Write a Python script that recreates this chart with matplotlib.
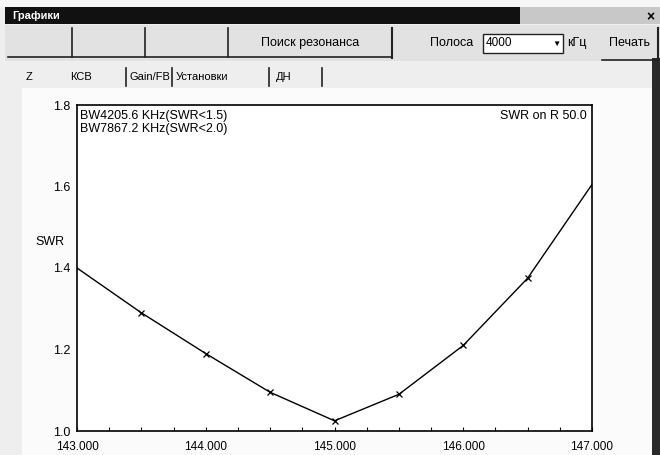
import matplotlib
matplotlib.use('Agg')
import matplotlib.pyplot as plt
from matplotlib.patches import Rectangle

plt.rcParams['font.family'] = ['Liberation Sans', 'DejaVu Sans']

# data
freq = [143.0, 143.5, 144.0, 144.5, 145.0, 145.5, 146.0, 146.5, 147.0]
swr = [1.40, 1.29, 1.19, 1.095, 1.025, 1.09, 1.21, 1.375, 1.605]
xticks = [143.0, 144.0, 145.0, 146.0, 147.0]
xticklabels = ['143.000', '144.000', '145.000', '146.000', '147.000']
yticks = [1.0, 1.2, 1.4, 1.6, 1.8]
yticklabels = ['1.0', '1.2', '1.4', '1.6', '1.8']
bw_lines = ['BW4205.6 KHz(SWR<1.5)', 'BW7867.2 KHz(SWR<2.0)']
r_text = 'SWR on R 50.0'
tabs = ['Z', 'КСВ', 'Gain/FB', 'Установки', 'ДН']

W, H = 660, 455
fig = plt.figure(figsize=(W / 100, H / 100), dpi=100, facecolor='#eeeeee')

# window chrome, pixel coords
bg = fig.add_axes([0, 0, 1, 1])
bg.set_xlim(0, W)
bg.set_ylim(H, 0)
bg.axis('off')

bg.add_patch(Rectangle((22, 88), 630, 367, color='#fbfbfb', lw=0))
bg.add_patch(Rectangle((0, 0), W, 7, color='#f6f6f6', lw=0))
bg.add_patch(Rectangle((5, 7), 515, 17, color='#111111', lw=0))
bg.add_patch(Rectangle((520, 7), 140, 17, color='#c8c8c8', lw=0))
bg.text(12, 16, 'Графики', color='white', fontsize=8, fontweight='bold', va='center')
bg.text(650, 17, '×', color='black', fontsize=10, fontweight='bold', va='center', ha='center')

# toolbar
bg.add_patch(Rectangle((5, 25), 655, 36, color='#e2e2e2', lw=0))
for x in [72, 145, 228]:
    bg.plot([x, x], [28, 57], color='#222222', lw=1.2)
bg.plot([8, 392], [57, 57], color='#222222', lw=1.2)
bg.plot([392, 392], [28, 58], color='#222222', lw=1.5)
bg.text(310, 43, 'Поиск резонанса', fontsize=9, ha='center', va='center')
bg.text(430, 43, 'Полоса', fontsize=9, va='center')
bg.add_patch(Rectangle((483, 34), 80, 19, facecolor='white', edgecolor='#222222', lw=1))
bg.text(486, 43, '4000', fontsize=8.5, va='center')
bg.text(556, 44, '▼', fontsize=6, ha='center', va='center')
bg.text(567, 43, 'кГц', fontsize=9, va='center')
bg.plot([658, 658], [28, 60], color='#222222', lw=1.5)
bg.plot([602, 658], [60, 60], color='#222222', lw=1.2)
bg.text(630, 43, 'Печать', fontsize=9, ha='center', va='center')

# tabs
tab_x = [26, 70, 130, 176, 276]
for t, x in zip(tabs, tab_x):
    bg.text(x, 77, t, fontsize=8, ha='left', va='center')
for x in [126, 172, 269, 322]:
    bg.plot([x, x], [68, 86], color='#222222', lw=1.2)

# right dark frame edge
bg.add_patch(Rectangle((652, 58), 8, H - 58, color='#2a2a2a', lw=0))

# chart
ax = fig.add_axes([77 / W, (H - 431) / H, (592 - 77) / W, (431 - 105) / H])
ax.set_facecolor('white')
ax.plot(freq, swr, color='black', lw=1, marker='x', markersize=5,
        markeredgewidth=0.9, markevery=list(range(1, len(freq) - 1)))
ax.set_xlim(143.0, 147.0)
ax.set_ylim(1.0, 1.8)
ax.set_xticks(xticks)
ax.set_xticklabels(xticklabels, fontsize=8.5)
ax.set_yticks(yticks)
ax.set_yticklabels(yticklabels, fontsize=9)
ax.set_xticks([143.25, 143.5, 143.75, 144.25, 144.5, 144.75, 145.25, 145.5,
               145.75, 146.25, 146.5, 146.75], minor=True)
ax.tick_params(axis='x', which='both', direction='in', length=3, pad=7, width=0.8)
ax.tick_params(axis='y', length=0, pad=5)
for s in ax.spines.values():
    s.set_linewidth(1.2)

ax.text(0.005, 0.985, bw_lines[0] + '\n' + bw_lines[1], transform=ax.transAxes,
        fontsize=9, va='top', ha='left', linespacing=1.1)
ax.text(0.99, 0.985, r_text, transform=ax.transAxes, fontsize=9, va='top', ha='right')
fig.text(35 / W, 1 - 242 / H, 'SWR', fontsize=9, va='center')

fig.savefig('out.png', dpi=100, facecolor=fig.get_facecolor())
